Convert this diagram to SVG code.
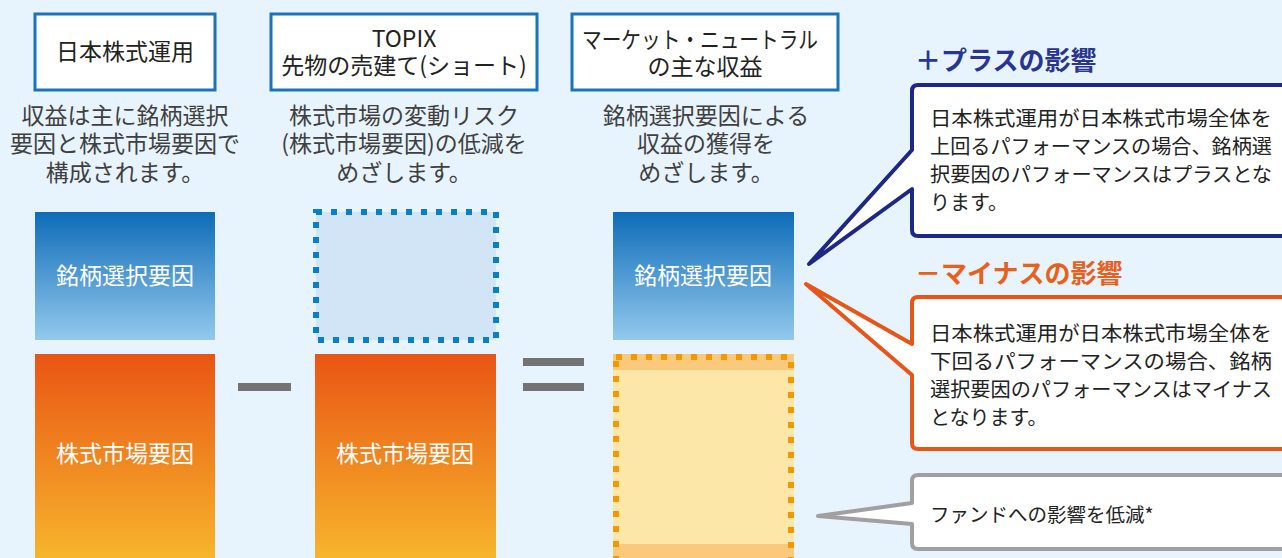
<svg xmlns="http://www.w3.org/2000/svg" width="1282" height="558" viewBox="0 0 1282 558">
<defs>
<linearGradient id="gBlue" x1="0" y1="0" x2="0" y2="1"><stop offset="0" stop-color="#0e6cb8"/><stop offset="1" stop-color="#93c9ed"/></linearGradient>
<linearGradient id="gOrange" x1="0" y1="0" x2="0" y2="1"><stop offset="0" stop-color="#e95514"/><stop offset="1" stop-color="#f7b52c"/></linearGradient>
<style>
.hdr{fill:#fff;stroke:#1a73bb;stroke-width:3}
.t{font-family:"Noto Sans CJK JP","Noto Sans",sans-serif}
.h{font-size:23px;fill:#222;text-anchor:middle}
.d{font-size:23px;fill:#404040;text-anchor:middle}
.w{font-size:23px;fill:#fff;text-anchor:middle}
.b{font-size:20px;fill:#222}
.op{fill:#737373}
</style>
</defs>
<rect width="1282" height="558" fill="#e8f4fd"/>

<g id="col1">
<rect class="hdr" x="35" y="14" width="180" height="76"/>
<text class="t h" x="125" y="60">日本株式運用</text>
<text class="t d" x="125" y="124">収益は主に銘柄選択</text>
<text class="t d" x="125" y="152">要因と株式市場要因で</text>
<text class="t d" x="125" y="181">構成されます。</text>
<rect x="35" y="212" width="180" height="128" fill="url(#gBlue)"/>
<text class="t w" x="125" y="284">銘柄選択要因</text>
<rect x="35" y="354" width="180" height="204" fill="url(#gOrange)"/>
<text class="t w" x="125" y="462">株式市場要因</text>
</g>

<g id="minus"><rect class="op" x="238" y="383" width="53" height="8"/></g>

<g id="col2">
<rect class="hdr" x="271" y="14" width="266" height="76"/>
<text class="t h" x="404" y="47">TOPIX</text>
<text class="t h" x="404" y="74">先物の売建て(ショート)</text>
<text class="t d" x="404" y="124">株式市場の変動リスク</text>
<text class="t d" x="404" y="152">(株式市場要因)の低減を</text>
<text class="t d" x="404" y="181">めざします。</text>
<rect x="316" y="212" width="180" height="128" fill="#d2e5f6" stroke="#0a7fc9" stroke-width="6" stroke-dasharray="6 9"/>
<rect x="315" y="354" width="181" height="204" fill="url(#gOrange)"/>
<text class="t w" x="405" y="462">株式市場要因</text>
</g>

<g id="equals"><rect class="op" x="523" y="358" width="61" height="8"/><rect class="op" x="523" y="383" width="61" height="8"/></g>

<g id="col3">
<rect class="hdr" x="572" y="14" width="266" height="76"/>
<text class="t h" x="700" y="48" font-size="22" textLength="236" lengthAdjust="spacingAndGlyphs">マーケット・ニュートラル</text>
<text class="t h" x="705" y="75">の主な収益</text>
<text class="t d" x="706" y="124">銘柄選択要因による</text>
<text class="t d" x="706" y="152">収益の獲得を</text>
<text class="t d" x="706" y="181">めざします。</text>
<rect x="613" y="212" width="181" height="128" fill="url(#gBlue)"/>
<text class="t w" x="703" y="284">銘柄選択要因</text>
<rect x="613" y="354" width="181" height="204" fill="#fde7a8"/>
<rect x="613" y="354" width="181" height="16" fill="#fbc97c"/>
<rect x="613" y="544" width="181" height="14" fill="#fbc97c"/>
<rect x="616" y="357" width="175" height="205" fill="none" stroke="#f39800" stroke-width="6" stroke-dasharray="6 9"/>
</g>

<g id="connectors">
<path d="M918,85 H1300 V236 H918 Q912,236 912,230 V189 L809,264 L912,150 V91 Q912,85 918,85 Z" fill="#fff" stroke="#1d2788" stroke-width="4" stroke-linejoin="round"/>
<path d="M918,297 H1300 V449 H918 Q912,449 912,443 V375 L806,284 L912,344 V303 Q912,297 918,297 Z" fill="#fff" stroke="#e95518" stroke-width="4" stroke-linejoin="round"/>
<path d="M918,475 H1300 V549 H918 Q912,549 912,543 V524 L818,516 L912,503 V481 Q912,475 918,475 Z" fill="#fff" stroke="#a0a0a0" stroke-width="4" stroke-linejoin="round"/>
</g>

<g id="plus-callout">
<text class="t" x="915" y="70" font-size="26" font-weight="bold" fill="#283593">＋プラスの影響</text>
<text class="t b" x="930" y="126" textLength="342" lengthAdjust="spacingAndGlyphs">日本株式運用が日本株式市場全体を</text>
<text class="t b" x="930" y="154" textLength="342" lengthAdjust="spacingAndGlyphs">上回るパフォーマンスの場合、銘柄選</text>
<text class="t b" x="930" y="182" textLength="342" lengthAdjust="spacingAndGlyphs">択要因のパフォーマンスはプラスとな</text>
<text class="t b" x="930" y="210">ります。</text>
</g>

<g id="minus-callout">
<text class="t" x="915" y="283" font-size="26" font-weight="bold" fill="#e8601c">－マイナスの影響</text>
<text class="t b" x="930" y="341" textLength="342" lengthAdjust="spacingAndGlyphs">日本株式運用が日本株式市場全体を</text>
<text class="t b" x="930" y="369" textLength="342" lengthAdjust="spacingAndGlyphs">下回るパフォーマンスの場合、銘柄</text>
<text class="t b" x="930" y="397" textLength="342" lengthAdjust="spacingAndGlyphs">選択要因のパフォーマンスはマイナス</text>
<text class="t b" x="930" y="425">となります。</text>
</g>

<g id="fund-callout">
<text class="t" x="930" y="522" font-size="19.5" fill="#222">ファンドへの影響を低減*</text>
</g>
</svg>
